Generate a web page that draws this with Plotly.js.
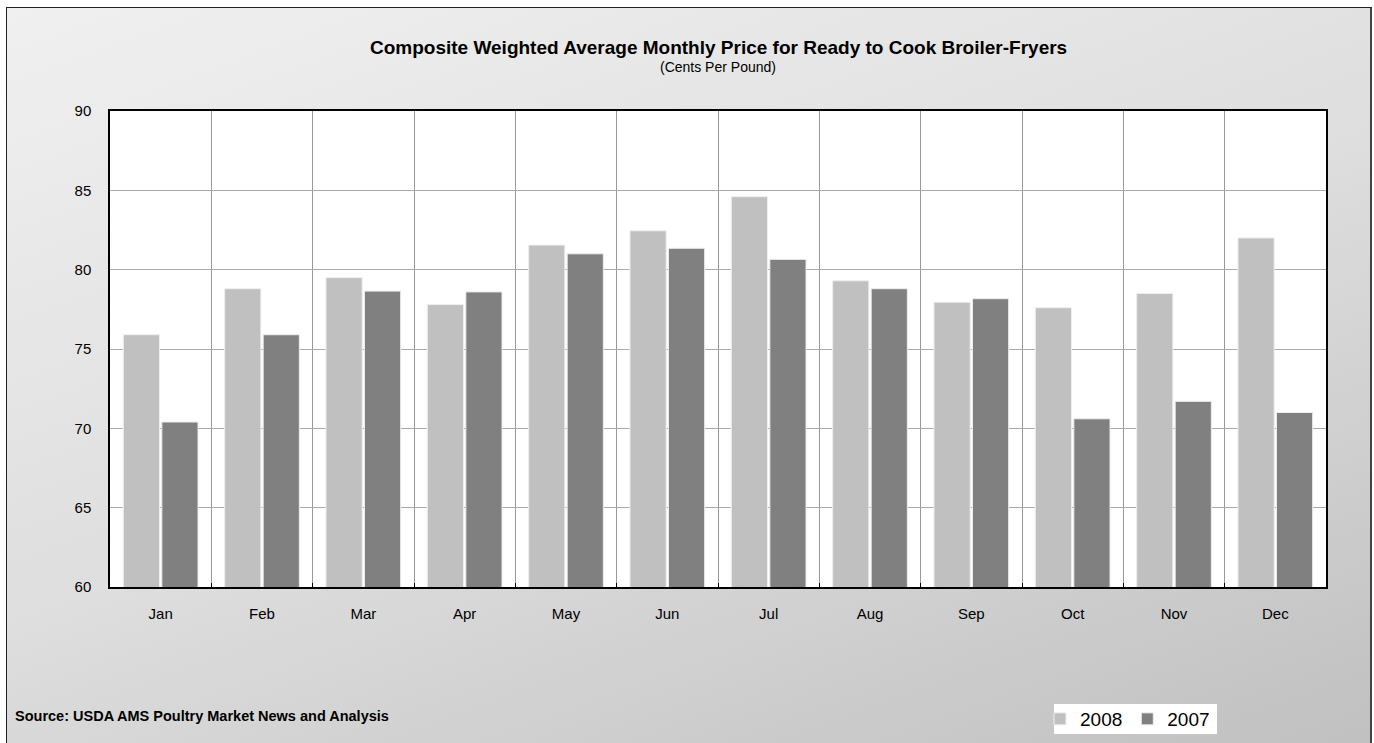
<!DOCTYPE html>
<html>
<head>
<meta charset="utf-8">
<script src="https://cdn.plot.ly/plotly-3.0.1.min.js"></script>
<style>
  html, body { margin: 0; padding: 0; background: #ffffff; }
  #frame {
    position: absolute; left: 6px; top: 7px; width: 1363px; height: 740px;
    border-left: 1px solid #222; border-top: 1px solid #222; border-right: 2px solid #444;
    background: linear-gradient(160deg, #f0f0f0 0%, #dedede 50%, #c0c0c0 100%);
  }
  #chart { position: absolute; left: 0; top: 0; width: 1374px; height: 743px; }
</style>
</head>
<body>
<div id="frame"></div>
<div id="chart"></div>
<script>
const months = ["Jan","Feb","Mar","Apr","May","Jun","Jul","Aug","Sep","Oct","Nov","Dec"];
const price2008 = [75.9, 78.8, 79.5, 77.8, 81.55, 82.45, 84.6, 79.3, 77.95, 77.6, 78.5, 82.0];
const price2007 = [70.4, 75.9, 78.65, 78.6, 81.0, 81.35, 80.65, 78.8, 78.17, 70.6, 71.7, 71.0];
const seriesNames = ["2008", "2007"];
const seriesColors = ["#c0c0c0", "#808080"];

const traces = [price2008, price2007].map((vals, i) => ({
  type: "bar",
  name: seriesNames[i],
  x: months,
  y: vals,
  marker: { color: seriesColors[i], line: { color: "#eeeeee", width: 1 } },
  hoverinfo: "x+y+name"
}));

const layout = {
  width: 1374, height: 743,
  paper_bgcolor: "rgba(0,0,0,0)",
  plot_bgcolor: "#ffffff",
  margin: { l: 110, r: 48, t: 111, b: 156, pad: 0 },
  font: { family: "Liberation Sans, Arial, sans-serif", color: "#000000" },
  barmode: "group",
  bargap: 0.24,
  bargroupgap: 0.06,
  showlegend: true,
  legend: {
    orientation: "h",
    xref: "container", yref: "container",
    x: 1040 / 1374, xanchor: "left",
    y: 1 - 719 / 743, yanchor: "middle",
    bgcolor: "rgba(0,0,0,0)",
    font: { size: 19, color: "#000000" },
    itemwidth: 30,
    traceorder: "normal"
  },
  shapes: [
    {
      type: "rect", xref: "paper", yref: "paper", layer: "above",
      x0: (1054 - 110) / 1216, x1: (1217 - 110) / 1216,
      y0: (587 - 734) / 476, y1: (587 - 704) / 476,
      fillcolor: "#ffffff", line: { width: 0 }
    }
  ],
  xaxis: {
    type: "category",
    tickson: "boundaries",
    showgrid: true,
    gridcolor: "#999999",
    gridwidth: 1,
    showline: true,
    linecolor: "#000000",
    linewidth: 1.5,
    mirror: true,
    ticks: "inside",
    ticklen: 4,
    tickcolor: "#000000",
    ticklabelstandoff: 12,
    tickfont: { size: 15, color: "#000000" },
    automargin: false,
    fixedrange: true
  },
  yaxis: {
    range: [60, 90],
    dtick: 5,
    showgrid: true,
    gridcolor: "#aaaaaa",
    gridwidth: 1,
    showline: true,
    linecolor: "#000000",
    linewidth: 1.5,
    mirror: true,
    ticks: "",
    ticklabelstandoff: 14,
    tickfont: { size: 15, color: "#000000" },
    zeroline: false,
    automargin: false,
    fixedrange: true
  },
  annotations: [
    {
      text: "<b>Composite Weighted Average Monthly Price for Ready to Cook Broiler-Fryers</b>",
      xref: "paper", yref: "paper", x: 0.5, y: 1.134, xanchor: "center", yanchor: "middle",
      showarrow: false, font: { size: 19, color: "#000000" }
    },
    {
      text: "(Cents Per Pound)",
      xref: "paper", yref: "paper", x: 0.5, y: 1.092, xanchor: "center", yanchor: "middle",
      showarrow: false, font: { size: 14, color: "#000000" }
    },
    {
      text: "<b>Source: USDA AMS Poultry Market News and Analysis</b>",
      xref: "paper", yref: "paper", x: -0.0795, y: -0.271, xanchor: "left", yanchor: "middle",
      showarrow: false, font: { size: 14.5, color: "#000000" }
    }
  ]
};

Plotly.newPlot("chart", traces, layout, { displayModeBar: false, responsive: false });
</script>
</body>
</html>
